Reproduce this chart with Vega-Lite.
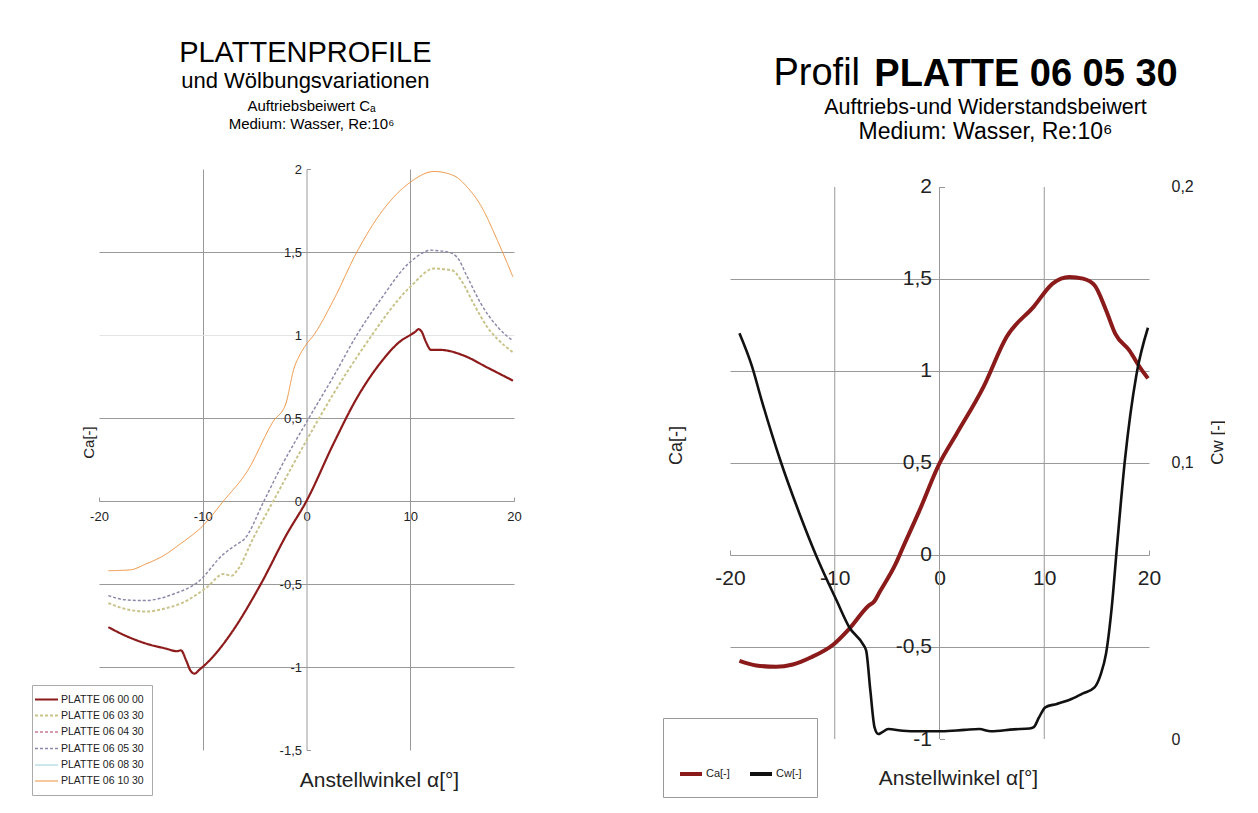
{
  "$schema": "https://vega.github.io/schema/vega-lite/v6.json",
  "background": "white",
  "padding": {"left": 31, "top": 39, "right": 0, "bottom": 0},
  "spacing": 140,
  "align": "none",
  "resolve": {"scale": {"color": "independent", "strokeDash": "independent", "strokeWidth": "independent", "x": "independent", "y": "independent"}, "legend": {"color": "independent", "strokeDash": "independent"}},
  "config": {
    "font": "Liberation Sans",
    "view": {"stroke": null},
    "title": {"color": "black", "fontWeight": "normal", "anchor": "middle"},
    "axis": {"labelFont": "Liberation Sans", "titleFont": "Liberation Sans", "labelColor": "#222", "titleColor": "#222", "titleFontWeight": "normal", "domainColor": "#999", "ticks": false, "tickColor": "#999", "labelFlush": false, "labelOverlap": false, "labelBound": false, "gridColor": "#999"},
    "legend": {"labelFont": "Liberation Sans", "labelColor": "#222"}
  },
  "datasets": {
    "left": [
      {"alpha": -19.1, "ca": -0.42, "profil": "PLATTE 06 10 30"},
      {"alpha": -17.0, "ca": -0.415, "profil": "PLATTE 06 10 30"},
      {"alpha": -15.5, "ca": -0.38, "profil": "PLATTE 06 10 30"},
      {"alpha": -13.8, "ca": -0.33, "profil": "PLATTE 06 10 30"},
      {"alpha": -12.2, "ca": -0.26, "profil": "PLATTE 06 10 30"},
      {"alpha": -10.0, "ca": -0.15, "profil": "PLATTE 06 10 30"},
      {"alpha": -8.0, "ca": 0.0, "profil": "PLATTE 06 10 30"},
      {"alpha": -5.7, "ca": 0.18, "profil": "PLATTE 06 10 30"},
      {"alpha": -3.2, "ca": 0.48, "profil": "PLATTE 06 10 30"},
      {"alpha": -2.0, "ca": 0.585, "profil": "PLATTE 06 10 30"},
      {"alpha": -1.2, "ca": 0.8, "profil": "PLATTE 06 10 30"},
      {"alpha": -0.6, "ca": 0.885, "profil": "PLATTE 06 10 30"},
      {"alpha": 0.0, "ca": 0.945, "profil": "PLATTE 06 10 30"},
      {"alpha": 0.7, "ca": 1.0, "profil": "PLATTE 06 10 30"},
      {"alpha": 2.6, "ca": 1.21, "profil": "PLATTE 06 10 30"},
      {"alpha": 4.9, "ca": 1.505, "profil": "PLATTE 06 10 30"},
      {"alpha": 7.1, "ca": 1.73, "profil": "PLATTE 06 10 30"},
      {"alpha": 10.0, "ca": 1.92, "profil": "PLATTE 06 10 30"},
      {"alpha": 12.3, "ca": 1.985, "profil": "PLATTE 06 10 30"},
      {"alpha": 14.2, "ca": 1.96, "profil": "PLATTE 06 10 30"},
      {"alpha": 15.5, "ca": 1.89, "profil": "PLATTE 06 10 30"},
      {"alpha": 16.8, "ca": 1.78, "profil": "PLATTE 06 10 30"},
      {"alpha": 18.4, "ca": 1.57, "profil": "PLATTE 06 10 30"},
      {"alpha": 19.9, "ca": 1.35, "profil": "PLATTE 06 10 30"},

      {"alpha": -19.1, "ca": -0.57, "profil": "PLATTE 06 05 30"},
      {"alpha": -17.5, "ca": -0.595, "profil": "PLATTE 06 05 30"},
      {"alpha": -15.7, "ca": -0.6, "profil": "PLATTE 06 05 30"},
      {"alpha": -14.0, "ca": -0.585, "profil": "PLATTE 06 05 30"},
      {"alpha": -12.8, "ca": -0.56, "profil": "PLATTE 06 05 30"},
      {"alpha": -10.5, "ca": -0.49, "profil": "PLATTE 06 05 30"},
      {"alpha": -8.0, "ca": -0.32, "profil": "PLATTE 06 05 30"},
      {"alpha": -6.7, "ca": -0.26, "profil": "PLATTE 06 05 30"},
      {"alpha": -6.0, "ca": -0.23, "profil": "PLATTE 06 05 30"},
      {"alpha": -4.1, "ca": 0.0, "profil": "PLATTE 06 05 30"},
      {"alpha": -2.5, "ca": 0.2, "profil": "PLATTE 06 05 30"},
      {"alpha": 0.0, "ca": 0.475, "profil": "PLATTE 06 05 30"},
      {"alpha": 2.6, "ca": 0.75, "profil": "PLATTE 06 05 30"},
      {"alpha": 4.9, "ca": 1.005, "profil": "PLATTE 06 05 30"},
      {"alpha": 7.1, "ca": 1.21, "profil": "PLATTE 06 05 30"},
      {"alpha": 10.0, "ca": 1.44, "profil": "PLATTE 06 05 30"},
      {"alpha": 12.0, "ca": 1.51, "profil": "PLATTE 06 05 30"},
      {"alpha": 13.6, "ca": 1.5, "profil": "PLATTE 06 05 30"},
      {"alpha": 14.5, "ca": 1.47, "profil": "PLATTE 06 05 30"},
      {"alpha": 15.5, "ca": 1.35, "profil": "PLATTE 06 05 30"},
      {"alpha": 16.8, "ca": 1.19, "profil": "PLATTE 06 05 30"},
      {"alpha": 18.4, "ca": 1.05, "profil": "PLATTE 06 05 30"},
      {"alpha": 19.9, "ca": 0.965, "profil": "PLATTE 06 05 30"},

      {"alpha": -19.1, "ca": -0.615, "profil": "PLATTE 06 03 30"},
      {"alpha": -17.5, "ca": -0.65, "profil": "PLATTE 06 03 30"},
      {"alpha": -15.4, "ca": -0.666, "profil": "PLATTE 06 03 30"},
      {"alpha": -13.5, "ca": -0.645, "profil": "PLATTE 06 03 30"},
      {"alpha": -12.2, "ca": -0.62, "profil": "PLATTE 06 03 30"},
      {"alpha": -9.6, "ca": -0.52, "profil": "PLATTE 06 03 30"},
      {"alpha": -8.0, "ca": -0.44, "profil": "PLATTE 06 03 30"},
      {"alpha": -7.2, "ca": -0.45, "profil": "PLATTE 06 03 30"},
      {"alpha": -6.7, "ca": -0.42, "profil": "PLATTE 06 03 30"},
      {"alpha": -5.1, "ca": -0.22, "profil": "PLATTE 06 03 30"},
      {"alpha": -3.2, "ca": 0.0, "profil": "PLATTE 06 03 30"},
      {"alpha": 0.0, "ca": 0.365, "profil": "PLATTE 06 03 30"},
      {"alpha": 2.6, "ca": 0.646, "profil": "PLATTE 06 03 30"},
      {"alpha": 5.5, "ca": 0.926, "profil": "PLATTE 06 03 30"},
      {"alpha": 10.0, "ca": 1.29, "profil": "PLATTE 06 03 30"},
      {"alpha": 12.3, "ca": 1.4, "profil": "PLATTE 06 03 30"},
      {"alpha": 14.0, "ca": 1.39, "profil": "PLATTE 06 03 30"},
      {"alpha": 14.9, "ca": 1.33, "profil": "PLATTE 06 03 30"},
      {"alpha": 16.1, "ca": 1.19, "profil": "PLATTE 06 03 30"},
      {"alpha": 17.4, "ca": 1.05, "profil": "PLATTE 06 03 30"},
      {"alpha": 18.5, "ca": 0.97, "profil": "PLATTE 06 03 30"},
      {"alpha": 19.9, "ca": 0.896, "profil": "PLATTE 06 03 30"},

      {"alpha": -19.1, "ca": -0.76, "profil": "PLATTE 06 00 00"},
      {"alpha": -17.5, "ca": -0.81, "profil": "PLATTE 06 00 00"},
      {"alpha": -15.4, "ca": -0.86, "profil": "PLATTE 06 00 00"},
      {"alpha": -13.5, "ca": -0.89, "profil": "PLATTE 06 00 00"},
      {"alpha": -12.5, "ca": -0.905, "profil": "PLATTE 06 00 00"},
      {"alpha": -12.1, "ca": -0.9, "profil": "PLATTE 06 00 00"},
      {"alpha": -11.6, "ca": -0.96, "profil": "PLATTE 06 00 00"},
      {"alpha": -11.2, "ca": -1.02, "profil": "PLATTE 06 00 00"},
      {"alpha": -10.8, "ca": -1.04, "profil": "PLATTE 06 00 00"},
      {"alpha": -10.3, "ca": -1.015, "profil": "PLATTE 06 00 00"},
      {"alpha": -9.5, "ca": -0.97, "profil": "PLATTE 06 00 00"},
      {"alpha": -8.9, "ca": -0.93, "profil": "PLATTE 06 00 00"},
      {"alpha": -7.3, "ca": -0.8, "profil": "PLATTE 06 00 00"},
      {"alpha": -4.4, "ca": -0.5, "profil": "PLATTE 06 00 00"},
      {"alpha": -1.9, "ca": -0.2, "profil": "PLATTE 06 00 00"},
      {"alpha": 0.0, "ca": 0.0, "profil": "PLATTE 06 00 00"},
      {"alpha": 2.6, "ca": 0.345, "profil": "PLATTE 06 00 00"},
      {"alpha": 4.9, "ca": 0.625, "profil": "PLATTE 06 00 00"},
      {"alpha": 7.1, "ca": 0.83, "profil": "PLATTE 06 00 00"},
      {"alpha": 9.1, "ca": 0.965, "profil": "PLATTE 06 00 00"},
      {"alpha": 10.0, "ca": 1.0, "profil": "PLATTE 06 00 00"},
      {"alpha": 10.5, "ca": 1.02, "profil": "PLATTE 06 00 00"},
      {"alpha": 10.8, "ca": 1.035, "profil": "PLATTE 06 00 00"},
      {"alpha": 11.1, "ca": 1.02, "profil": "PLATTE 06 00 00"},
      {"alpha": 11.5, "ca": 0.96, "profil": "PLATTE 06 00 00"},
      {"alpha": 12.0, "ca": 0.91, "profil": "PLATTE 06 00 00"},
      {"alpha": 12.9, "ca": 0.91, "profil": "PLATTE 06 00 00"},
      {"alpha": 15.2, "ca": 0.875, "profil": "PLATTE 06 00 00"},
      {"alpha": 17.4, "ca": 0.805, "profil": "PLATTE 06 00 00"},
      {"alpha": 19.9, "ca": 0.725, "profil": "PLATTE 06 00 00"}
    ],
    "right": [
      {"alpha": -19.1, "value": -0.575, "series": "Ca[-]"},
      {"alpha": -17.5, "value": -0.6, "series": "Ca[-]"},
      {"alpha": -15.6, "value": -0.608, "series": "Ca[-]"},
      {"alpha": -14.0, "value": -0.595, "series": "Ca[-]"},
      {"alpha": -12.3, "value": -0.557, "series": "Ca[-]"},
      {"alpha": -10.1, "value": -0.485, "series": "Ca[-]"},
      {"alpha": -8.6, "value": -0.4, "series": "Ca[-]"},
      {"alpha": -6.8, "value": -0.277, "series": "Ca[-]"},
      {"alpha": -6.2, "value": -0.25, "series": "Ca[-]"},
      {"alpha": -5.7, "value": -0.2, "series": "Ca[-]"},
      {"alpha": -4.2, "value": -0.05, "series": "Ca[-]"},
      {"alpha": -3.5, "value": 0.04, "series": "Ca[-]"},
      {"alpha": -2.0, "value": 0.23, "series": "Ca[-]"},
      {"alpha": 0.0, "value": 0.498, "series": "Ca[-]"},
      {"alpha": 1.65, "value": 0.66, "series": "Ca[-]"},
      {"alpha": 4.2, "value": 0.914, "series": "Ca[-]"},
      {"alpha": 6.4, "value": 1.185, "series": "Ca[-]"},
      {"alpha": 9.0, "value": 1.35, "series": "Ca[-]"},
      {"alpha": 10.8, "value": 1.475, "series": "Ca[-]"},
      {"alpha": 12.4, "value": 1.511, "series": "Ca[-]"},
      {"alpha": 13.7, "value": 1.502, "series": "Ca[-]"},
      {"alpha": 14.8, "value": 1.466, "series": "Ca[-]"},
      {"alpha": 15.9, "value": 1.33, "series": "Ca[-]"},
      {"alpha": 16.8, "value": 1.2, "series": "Ca[-]"},
      {"alpha": 18.1, "value": 1.113, "series": "Ca[-]"},
      {"alpha": 19.2, "value": 1.014, "series": "Ca[-]"},
      {"alpha": 19.9, "value": 0.96, "series": "Ca[-]"},

      {"alpha": -19.1, "value": 0.147, "series": "Cw[-]"},
      {"alpha": -17.9, "value": 0.135, "series": "Cw[-]"},
      {"alpha": -17.0, "value": 0.123, "series": "Cw[-]"},
      {"alpha": -15.2, "value": 0.101, "series": "Cw[-]"},
      {"alpha": -13.4, "value": 0.082, "series": "Cw[-]"},
      {"alpha": -11.8, "value": 0.0667, "series": "Cw[-]"},
      {"alpha": -9.8, "value": 0.05, "series": "Cw[-]"},
      {"alpha": -8.6, "value": 0.0404, "series": "Cw[-]"},
      {"alpha": -7.3, "value": 0.0343, "series": "Cw[-]"},
      {"alpha": -7.0, "value": 0.032, "series": "Cw[-]"},
      {"alpha": -6.6, "value": 0.0175, "series": "Cw[-]"},
      {"alpha": -6.2, "value": 0.0042, "series": "Cw[-]"},
      {"alpha": -5.85, "value": 0.0018, "series": "Cw[-]"},
      {"alpha": -5.5, "value": 0.0024, "series": "Cw[-]"},
      {"alpha": -4.9, "value": 0.0036, "series": "Cw[-]"},
      {"alpha": -3.5, "value": 0.003, "series": "Cw[-]"},
      {"alpha": -2.0, "value": 0.0028, "series": "Cw[-]"},
      {"alpha": 0.2, "value": 0.0028, "series": "Cw[-]"},
      {"alpha": 2.4, "value": 0.0033, "series": "Cw[-]"},
      {"alpha": 3.8, "value": 0.0036, "series": "Cw[-]"},
      {"alpha": 4.9, "value": 0.0028, "series": "Cw[-]"},
      {"alpha": 7.1, "value": 0.0035, "series": "Cw[-]"},
      {"alpha": 8.6, "value": 0.0038, "series": "Cw[-]"},
      {"alpha": 9.0, "value": 0.0043, "series": "Cw[-]"},
      {"alpha": 9.5, "value": 0.0078, "series": "Cw[-]"},
      {"alpha": 10.1, "value": 0.0115, "series": "Cw[-]"},
      {"alpha": 11.2, "value": 0.0127, "series": "Cw[-]"},
      {"alpha": 12.6, "value": 0.0145, "series": "Cw[-]"},
      {"alpha": 13.7, "value": 0.0165, "series": "Cw[-]"},
      {"alpha": 14.8, "value": 0.0187, "series": "Cw[-]"},
      {"alpha": 15.4, "value": 0.0235, "series": "Cw[-]"},
      {"alpha": 15.9, "value": 0.031, "series": "Cw[-]"},
      {"alpha": 16.45, "value": 0.048, "series": "Cw[-]"},
      {"alpha": 16.95, "value": 0.07, "series": "Cw[-]"},
      {"alpha": 17.7, "value": 0.101, "series": "Cw[-]"},
      {"alpha": 18.8, "value": 0.132, "series": "Cw[-]"},
      {"alpha": 19.9, "value": 0.149, "series": "Cw[-]"}
    ],
    "vlines": [
      {"alpha": -10},
      {"alpha": 0},
      {"alpha": 10}
    ]
  },
  "hconcat": [
    {
      "title": {"text": "PLATTENPROFILE", "subtitle": "und Wölbungsvariationen", "fontSize": 29, "subtitleFontSize": 22, "subtitleColor": "black", "subtitlePadding": 3, "offset": 7, "frame": "bounds", "dx": 29},
      "vconcat": [
        {
          "title": {"text": ["Auftriebsbeiwert Cₐ", "Medium: Wasser, Re:10⁶"], "fontSize": 15, "lineHeight": 18, "offset": 31, "frame": "group", "dx": 5},
          "width": 415,
          "height": 581,
          "data": {"name": "left"},
          "mark": {"type": "line", "interpolate": "monotone"},
          "encoding": {
            "x": {
              "field": "alpha", "type": "quantitative",
              "scale": {"domain": [-20, 20], "nice": false},
              "axis": {
                "title": "Anstellwinkel  α[°]", "values": [-20, -10, 0, 10, 20], "offset": -249,
                "labelFontSize": 13, "labelPadding": 13,
                "labelExpr": "toString(datum.value)",
                "ticks": true, "tickSize": -4,
                "tickOpacity": {"condition": {"test": "abs(datum.value) == 20", "value": 1}, "value": 0},
                "grid": true, "gridOpacity": {"condition": {"test": "abs(datum.value) == 10", "value": 1}, "value": 0},
                "titleFontSize": 21, "titleX": 280, "titleY": 279, "titleAlign": "center", "titleBaseline": "middle"
              }
            },
            "y": {
              "field": "ca", "type": "quantitative",
              "scale": {"domain": [-1.5, 2], "nice": false},
              "axis": {
                "title": "Ca[-]", "values": [-1.5, -1, -0.5, 0, 0.5, 1, 1.5, 2], "offset": -207.5,
                "labelFontSize": 13, "labelPadding": 9,
                "labelExpr": "replace(toString(datum.value), '.', ',')",
                "ticks": true, "tickSize": -4,
                "tickOpacity": {"condition": {"test": "datum.value == 2 || datum.value == -1.5", "value": 1}, "value": 0},
                "grid": true,
                "gridColor": {"condition": {"test": "datum.value == 1", "value": "#e4e4e4"}, "value": "#999"},
                "gridOpacity": {"condition": {"test": "datum.value == 2 || datum.value == -1.5 || datum.value == 0", "value": 0}, "value": 1},
                "titleFontSize": 15, "titleX": -218, "titleY": 273, "titleAlign": "center", "titleBaseline": "middle", "titleAngle": 270
              }
            },
            "color": {
              "field": "profil", "type": "nominal",
              "scale": {"domain": ["PLATTE 06 00 00", "PLATTE 06 03 30", "PLATTE 06 04 30", "PLATTE 06 05 30", "PLATTE 06 08 30", "PLATTE 06 10 30"], "range": ["#8e1b1b", "#c9c38a", "#c97b95", "#8c88aa", "#9ccfe0", "#ee913d"]},
              "legend": {"title": null, "orient": "none", "legendX": -67, "legendY": 516, "strokeColor": "#aaa", "fillColor": "white", "padding": 8, "labelFontSize": 10.5, "rowPadding": 4.5, "symbolType": "M-2.3,0H2.3", "symbolSize": 100, "symbolStrokeWidth": 1.5, "labelOffset": 8}
            },
            "strokeDash": {
              "field": "profil", "type": "nominal",
              "scale": {"domain": ["PLATTE 06 00 00", "PLATTE 06 03 30", "PLATTE 06 04 30", "PLATTE 06 05 30", "PLATTE 06 08 30", "PLATTE 06 10 30"], "range": [[1, 0], [3, 2], [3, 2], [3, 2], [1, 0], [1, 0]]},
              "legend": {"title": null, "orient": "none", "legendX": -67, "legendY": 516, "strokeColor": "#aaa", "fillColor": "white", "padding": 8, "labelFontSize": 10.5, "rowPadding": 4.5, "symbolType": "M-2.3,0H2.3", "symbolSize": 100, "symbolStrokeWidth": 1.5, "labelOffset": 8}
            },
            "strokeWidth": {
              "field": "profil", "type": "nominal",
              "scale": {"domain": ["PLATTE 06 00 00", "PLATTE 06 03 30", "PLATTE 06 04 30", "PLATTE 06 05 30", "PLATTE 06 08 30", "PLATTE 06 10 30"], "range": [2.2, 1, 1, 1, 1.5, 1.7]},
              "legend": null
            }
          }
        }
      ]
    },
    {
      "title": {"text": "Profil", "fontSize": 38, "offset": -37, "dx": -127, "frame": "bounds"},
      "vconcat": [
        {
          "title": {"text": "PLATTE 06 05 30", "fontSize": 38, "fontWeight": "bold", "offset": 3, "dx": 80, "frame": "bounds"},
          "vconcat": [
            {
              "title": {"text": "Auftriebs-und Widerstandsbeiwert", "subtitle": "Medium: Wasser, Re:10⁶", "fontSize": 21.5, "subtitleFontSize": 23, "subtitleColor": "black", "subtitlePadding": 3, "offset": 25, "dx": 46, "frame": "group"},
              "width": 419,
              "height": 570,
              "encoding": {
                "x": {
                  "field": "alpha", "type": "quantitative",
                  "scale": {"domain": [-20, 20], "nice": false},
                  "axis": {
                    "title": "Anstellwinkel  α[°]", "values": [-20, -10, 0, 10, 20], "offset": -184,
                    "labelFontSize": 21, "labelPadding": 17,
                    "labelExpr": "toString(datum.value)",
                    "ticks": true, "tickSize": -5,
                    "tickOpacity": {"condition": {"test": "abs(datum.value) == 20", "value": 1}, "value": 0},
                    "grid": false,
                    "titleFontSize": 21, "titleX": 228, "titleY": 223, "titleAlign": "center", "titleBaseline": "middle"
                  }
                }
              },
              "layer": [
                {
                  "layer": [
                    {
                      "data": {"name": "vlines"},
                      "mark": {"type": "rule", "color": "#999", "strokeWidth": 1},
                      "encoding": {"y": {"datum": -1, "type": "quantitative"}, "y2": {"datum": 2}}
                    },
                    {
                      "data": {"name": "right"},
                      "transform": [{"filter": "datum.series == 'Ca[-]'"}],
                      "mark": {"type": "line", "interpolate": "monotone", "strokeWidth": 4},
                      "encoding": {
                        "y": {
                          "field": "value", "type": "quantitative",
                          "scale": {"domain": [-1, 2.0978], "nice": false},
                          "axis": {
                            "title": "Ca[-]", "values": [-1, -0.5, 0, 0.5, 1, 1.5, 2], "offset": -209.5,
                            "domain": false,
                            "labelFontSize": 21, "labelPadding": 13,
                            "labelExpr": "replace(toString(datum.value), '.', ',')",
                            "ticks": true, "tickSize": -5,
                            "tickOpacity": {"condition": {"test": "datum.value == 2 || datum.value == -1", "value": 1}, "value": 0},
                            "grid": true,
                            "gridOpacity": {"condition": {"test": "datum.value == 2 || datum.value == -1 || datum.value == 0", "value": 0}, "value": 1},
                            "titleFontSize": 18, "titleX": -263.5, "titleY": 276, "titleAlign": "center", "titleBaseline": "middle", "titleAngle": 270
                          }
                        },
                        "color": {
                          "field": "series", "type": "nominal",
                          "scale": {"domain": ["Ca[-]", "Cw[-]"], "range": ["#8b1a1a", "#111111"]},
                          "legend": {"title": " ", "titleFontSize": 18, "titlePadding": 10, "orient": "none", "direction": "horizontal", "legendX": -67, "legendY": 549, "strokeColor": "#999", "fillColor": "white", "padding": 15, "labelFontSize": 11, "symbolType": "stroke", "symbolSize": 484, "symbolStrokeWidth": 4, "labelOffset": 2, "columnPadding": 12}
                        }
                      }
                    }
                  ]
                },
                {
                  "data": {"name": "right"},
                  "transform": [{"filter": "datum.series == 'Cw[-]'"}],
                  "mark": {"type": "line", "interpolate": "monotone", "strokeWidth": 2.6},
                  "encoding": {
                    "y": {
                      "field": "value", "type": "quantitative",
                      "scale": {"domain": [0, 0.20652], "nice": false},
                      "axis": {
                        "orient": "right", "title": "Cw [-]", "values": [0, 0.1, 0.2],
                        "domain": false, "grid": false, "labelFontSize": 16, "labelPadding": 22,
                        "labelExpr": "replace(toString(datum.value), '.', ',')",
                        "titleFontSize": 17, "titleX": 68, "titleY": 273, "titleAlign": "center", "titleBaseline": "middle", "titleAngle": 270
                      }
                    },
                    "color": {
                      "field": "series", "type": "nominal",
                      "scale": {"domain": ["Ca[-]", "Cw[-]"], "range": ["#8b1a1a", "#111111"]},
                      "legend": {"title": " ", "titleFontSize": 18, "titlePadding": 10, "orient": "none", "direction": "horizontal", "legendX": -67, "legendY": 549, "strokeColor": "#999", "fillColor": "white", "padding": 15, "labelFontSize": 11, "symbolType": "stroke", "symbolSize": 484, "symbolStrokeWidth": 4, "labelOffset": 2, "columnPadding": 12}
                    }
                  }
                }
              ],
              "resolve": {"scale": {"y": "independent"}}
            }
          ]
        }
      ]
    }
  ]
}
